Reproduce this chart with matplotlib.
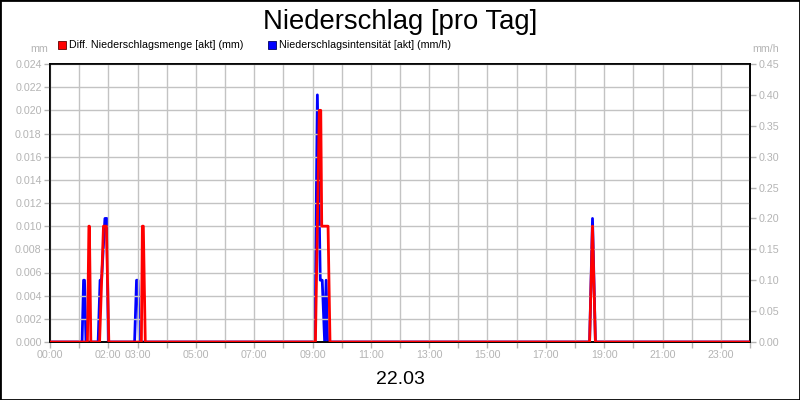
import matplotlib
matplotlib.use("Agg")
import matplotlib.pyplot as plt
from matplotlib.patches import Rectangle

plt.rcParams['font.family'] = ['Liberation Sans', 'DejaVu Sans']

# minutes since midnight, Diff. Niederschlagsmenge (mm)
menge_min = [0, 77, 80, 81, 84, 102, 110, 116, 121, 188, 190, 192, 196,
             546, 554, 557, 559, 572, 576, 1110, 1116, 1122, 1440]
menge_mm = [0, 0, 0.01, 0.01, 0, 0, 0.01, 0.01, 0, 0, 0.01, 0.01, 0,
            0, 0.02, 0.02, 0.01, 0.01, 0, 0, 0.01, 0, 0]

# minutes since midnight, Niederschlagsintensitaet (mm/h)
int_min = [0, 66, 69, 71, 74, 99, 103, 106, 113, 117, 120, 174, 178, 181, 184,
           545, 550, 556, 560, 565, 568, 571, 1110, 1116, 1122, 1440]
int_mmh = [0, 0, 0.1, 0.1, 0, 0, 0.1, 0.1, 0.2, 0.2, 0, 0, 0.1, 0.1, 0,
           0, 0.4, 0.1, 0.1, 0, 0.1, 0, 0, 0.2, 0, 0]

hour_ticks = list(range(25))
hour_labels = ['00:00', '', '02:00', '03:00', '', '05:00', '', '07:00', '', '09:00',
               '', '11:00', '', '13:00', '', '15:00', '', '17:00', '', '19:00',
               '', '21:00', '', '23:00', '']
left_ticks = [i * 0.002 for i in range(13)]
right_ticks = [i * 0.05 for i in range(10)]

grey = '#b4b4b4'
gridc = '#c3c3c3'

fig = plt.figure(figsize=(8, 4), dpi=100)
ax = fig.add_axes([50 / 800, 58 / 400, 700 / 800, 278 / 400])
ax2 = ax.twinx()

ax2.plot([m / 60 for m in int_min], int_mmh, color='#0000ff', lw=2.0, zorder=3)
ax.plot([m / 60 for m in menge_min], menge_mm, color='#ff0000', lw=2.0, zorder=4)
ax.set_zorder(ax2.get_zorder() + 1)
ax.patch.set_visible(False)

ax.set_xlim(0, 24)
ax.set_ylim(0, 0.024)
ax2.set_ylim(0, 0.45)
ax.set_xticks(hour_ticks)
ax.set_xticklabels(hour_labels)
ax.set_yticks(left_ticks)
ax.set_yticklabels(['%.3f' % v for v in left_ticks])
ax2.set_yticks(right_ticks)
ax2.set_yticklabels(['%.2f' % v for v in right_ticks])

ax.grid(True, color=gridc, lw=1.0)
ax.set_axisbelow(True)
for a in (ax, ax2):
    a.tick_params(labelsize=7.7, labelcolor=grey, color=grey, length=4, width=1, pad=2)
    for s in a.spines.values():
        s.set_color('black')
        s.set_linewidth(1.2)

fig.text(0.5, 1 - 29 / 400, 'Niederschlag [pro Tag]', ha='center', va='baseline', fontsize=19.8)
fig.text(0.5, 1 - 384 / 400, '22.03', ha='center', va='baseline', fontsize=14)
fig.text(48 / 800, 1 - 52.5 / 400, 'mm', ha='right', va='baseline', fontsize=7.7, color=grey)
fig.text(752 / 800, 1 - 52.5 / 400, 'mm/h', ha='left', va='baseline', fontsize=7.7, color=grey)

fig.add_artist(Rectangle((58 / 800, 1 - 49 / 400), 8 / 800, 8 / 400, transform=fig.transFigure,
                         facecolor='#ff0000', edgecolor='#600000', lw=0.6))
fig.text(69 / 800, 1 - 48.5 / 400, 'Diff. Niederschlagsmenge [akt] (mm)', ha='left', va='baseline', fontsize=7.7)
fig.add_artist(Rectangle((268 / 800, 1 - 49 / 400), 8 / 800, 8 / 400, transform=fig.transFigure,
                         facecolor='#0000ff', edgecolor='#000060', lw=0.6))
fig.text(279 / 800, 1 - 48.5 / 400, 'Niederschlagsintensität [akt] (mm/h)', ha='left', va='baseline', fontsize=7.7)

fig.add_artist(Rectangle((0, 0), 1, 1, transform=fig.transFigure, fill=False, edgecolor='black', lw=2))

fig.savefig('out.png', dpi=100)
